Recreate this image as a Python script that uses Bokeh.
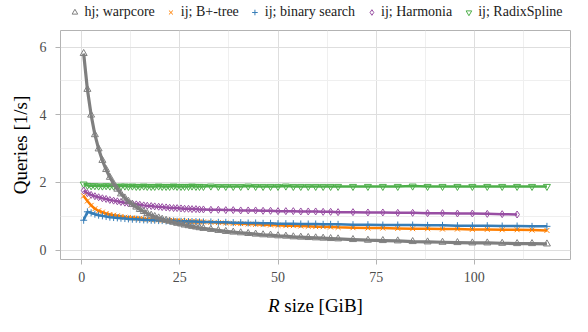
from bokeh.plotting import figure
from bokeh.layouts import column
from bokeh.models import Range1d, FixedTicker, Legend, LegendItem, Label
from bokeh.embed import file_html
from bokeh.resources import INLINE

# R size [GiB]
x_size = [0.5, 1.45, 2.4, 3.36, 4.31, 5.27, 6.22, 7.17, 8.13, 9.08, 10.0, 11.0, 11.9,
          12.9, 13.9, 14.8, 15.8, 16.7, 17.7, 18.6, 19.6, 20.5, 21.5, 22.4, 23.4, 24.3,
          25.3, 26.2, 27.2, 28.1, 29.1, 30.0, 31.0,
          32.9, 34.8, 36.7, 38.6, 40.5, 42.4, 44.3, 46.2, 48.1, 50.0, 52.0, 53.9, 55.8,
          57.7, 59.6, 61.5, 63.4, 65.3,
          69.1, 72.9, 76.7, 80.5, 84.3, 88.1, 91.9, 95.7, 99.5, 103.3, 107.1, 110.9,
          114.7, 118.5]

warpcore = [5.81, 4.75, 3.99, 3.41, 2.99, 2.65, 2.38, 2.15, 1.96, 1.80, 1.66, 1.54, 1.44,
            1.35, 1.27, 1.20, 1.14, 1.08, 1.03, 0.99, 0.95, 0.91, 0.88, 0.85, 0.82, 0.79,
            0.77, 0.74, 0.72, 0.70, 0.68, 0.66, 0.64,
            0.61, 0.58, 0.55, 0.53, 0.51, 0.49, 0.47, 0.45, 0.44, 0.42, 0.41, 0.39, 0.38,
            0.37, 0.36, 0.35, 0.34, 0.33,
            0.31, 0.29, 0.28, 0.27, 0.25, 0.24, 0.23, 0.22, 0.21, 0.21, 0.20, 0.19,
            0.19, 0.18]

btree = [1.60, 1.45, 1.32, 1.22, 1.16, 1.12, 1.08, 1.05, 1.03, 1.01, 0.99, 0.97, 0.96,
         0.95, 0.94, 0.93, 0.92, 0.91, 0.90, 0.90, 0.89, 0.88, 0.88, 0.87, 0.87, 0.86,
         0.86, 0.85, 0.85, 0.84, 0.84, 0.83, 0.83,
         0.82, 0.81, 0.80, 0.79, 0.78, 0.77, 0.76, 0.75, 0.74, 0.73, 0.72, 0.72, 0.71,
         0.70, 0.69, 0.69, 0.68, 0.67,
         0.66, 0.65, 0.65, 0.64, 0.63, 0.63, 0.62, 0.62, 0.61, 0.61, 0.60, 0.60,
         0.59, 0.58]

binsearch = [0.88, 1.13, 1.10, 1.06, 1.03, 1.01, 0.99, 0.97, 0.96, 0.95, 0.94, 0.93, 0.92,
             0.91, 0.91, 0.90, 0.89, 0.89, 0.88, 0.88, 0.87, 0.87, 0.86, 0.86, 0.86, 0.85,
             0.85, 0.85, 0.84, 0.84, 0.84, 0.83, 0.83,
             0.83, 0.82, 0.82, 0.81, 0.81, 0.80, 0.80, 0.79, 0.79, 0.78, 0.78, 0.78, 0.77,
             0.77, 0.77, 0.76, 0.76, 0.76,
             0.75, 0.75, 0.74, 0.74, 0.74, 0.73, 0.73, 0.72, 0.72, 0.72, 0.71, 0.71,
             0.70, 0.70]

harmonia = [1.76, 1.68, 1.63, 1.59, 1.56, 1.53, 1.51, 1.48, 1.46, 1.44, 1.42, 1.40, 1.38,
            1.37, 1.35, 1.34, 1.32, 1.31, 1.30, 1.29, 1.28, 1.27, 1.26, 1.25, 1.24, 1.24,
            1.23, 1.22, 1.22, 1.21, 1.21, 1.20, 1.20,
            1.19, 1.19, 1.18, 1.18, 1.17, 1.17, 1.17, 1.16, 1.16, 1.15, 1.15, 1.15, 1.14,
            1.14, 1.14, 1.13, 1.13, 1.12,
            1.12, 1.11, 1.11, 1.10, 1.10, 1.09, 1.09, 1.08, 1.08, 1.07, 1.06, 1.05]

radixspline = [1.95, 1.91, 1.90, 1.90, 1.89, 1.89, 1.90, 1.89, 1.89, 1.88, 1.89, 1.89, 1.88,
               1.89, 1.88, 1.88, 1.89, 1.88, 1.88, 1.88, 1.89, 1.88, 1.88, 1.88, 1.89, 1.88,
               1.88, 1.88, 1.88, 1.89, 1.88, 1.88, 1.88,
               1.89, 1.88, 1.88, 1.88, 1.88, 1.89, 1.88, 1.88, 1.88, 1.88, 1.89, 1.88, 1.88,
               1.88, 1.88, 1.88, 1.88, 1.88,
               1.88, 1.88, 1.88, 1.88, 1.89, 1.88, 1.88, 1.88, 1.88, 1.88, 1.88, 1.88,
               1.88, 1.88]

labels = ["hj; warpcore", "ij; B+-tree", "ij; binary search", "ij; Harmonia", "ij; RadixSpline"]
x_ticks = [0, 25, 50, 75, 100]
y_ticks = [0, 2, 4, 6]

FONT = "Liberation Serif"
W = 572
H_LEG, H_MAIN, H_TITLE = 24, 264, 28
X0, X1 = -5.4, 124.5


def strip_figure(h, y_range):
    f = figure(width=W, height=h, output_backend="svg", toolbar_location=None,
               x_axis_type=None, y_axis_type=None,
               x_range=Range1d(X0, X1), y_range=y_range,
               min_border=0, min_border_left=0, min_border_right=0,
               min_border_top=0, min_border_bottom=0)
    f.outline_line_color = None
    f.xgrid.visible = False
    f.ygrid.visible = False
    return f


p = figure(width=W, height=H_MAIN, output_backend="svg", toolbar_location=None,
           x_range=Range1d(X0, X1), y_range=Range1d(-0.28, 6.49),
           min_border_left=60, min_border_right=2, min_border_top=6, min_border_bottom=29,
           background_fill_color="white", border_fill_color="white")

p.outline_line_color = "#b3b3b3"
p.outline_line_width = 1

p.xaxis.ticker = FixedTicker(ticks=x_ticks, minor_ticks=[12.5, 37.5, 62.5, 87.5, 112.5])
p.yaxis.ticker = FixedTicker(ticks=y_ticks, minor_ticks=[1, 3, 5])
for ax in (p.xaxis, p.yaxis):
    ax.axis_line_color = None
    ax.major_tick_line_color = "#b3b3b3"
    ax.major_tick_out = 5
    ax.major_tick_in = 0
    ax.minor_tick_line_color = None
    ax.major_label_text_font = FONT
    ax.major_label_text_font_size = "14px"
    ax.major_label_text_color = "#4d4d4d"
    ax.axis_label_text_font = FONT
    ax.axis_label_text_font_size = "19px"
    ax.axis_label_text_font_style = "normal"
    ax.axis_label_text_color = "black"
p.xaxis.major_label_standoff = 7
p.yaxis.major_label_standoff = 9
p.xaxis.axis_label = None
p.yaxis.axis_label = "Queries [1/s]"
p.yaxis.axis_label_standoff = 6

for g in (p.xgrid, p.ygrid):
    g.grid_line_color = "#dedede"
    g.grid_line_width = 1
    g.minor_grid_line_color = "#efefef"
    g.minor_grid_line_width = 1

series = [
    (radixspline, "#4daf4a", "inverted_triangle", 2.5),
    (harmonia, "#984ea3", "diamond", 2.5),
    (btree, "#ff7f00", "x", 2.5),
    (binsearch, "#377eb8", "cross", 2.5),
    (warpcore, "#7f7f7f", "triangle", 3.2),
]
styles = {}
for ys, color, marker, lw in series:
    xs = x_size[:len(ys)]
    p.line(xs, ys, line_color=color, line_width=lw)
    p.scatter(xs, ys, marker=marker, size=7, line_color=color, fill_color=None, line_width=1)
    styles[marker] = (color, ys)

# legend strip above the panel (its y range lies above the data, so only the legend shows)
leg_fig = strip_figure(H_LEG, Range1d(100, 101))
order = ["triangle", "x", "cross", "diamond", "inverted_triangle"]
items = []
for lab, m in zip(labels, order):
    color, ys = styles[m]
    r = leg_fig.scatter(x=x_size[:len(ys)], y=ys, marker=m, size=9, line_color=color,
                        fill_color=None, line_width=1)
    items.append(LegendItem(label=lab, renderers=[r]))
legend = Legend(items=items, orientation="horizontal", location="center")
legend.label_text_font = FONT
legend.label_text_font_size = "14px"
legend.label_text_color = "#1a1a1a"
legend.border_line_color = None
legend.background_fill_alpha = 0
legend.padding = 0
legend.margin = 0
legend.spacing = 9
legend.label_standoff = 3
legend.glyph_width = 14
legend.glyph_height = 18
legend.label_height = 18
leg_fig.add_layout(legend, "center")

# x-axis title strip with italic R
title_fig = strip_figure(H_TITLE, Range1d(0, H_TITLE))
split_x = 50.4
title_fig.add_layout(Label(x=split_x, y=11, text="R", text_font=FONT, text_font_size="19px",
                           text_font_style="italic", text_align="right",
                           text_baseline="alphabetic", text_color="black"))
title_fig.add_layout(Label(x=split_x + 1.2, y=11, text="size [GiB]", text_font=FONT,
                           text_font_size="19px", text_align="left",
                           text_baseline="alphabetic", text_color="black"))

layout = column(leg_fig, p, title_fig, spacing=0)
open("out.html", "w").write(file_html(layout, INLINE))
